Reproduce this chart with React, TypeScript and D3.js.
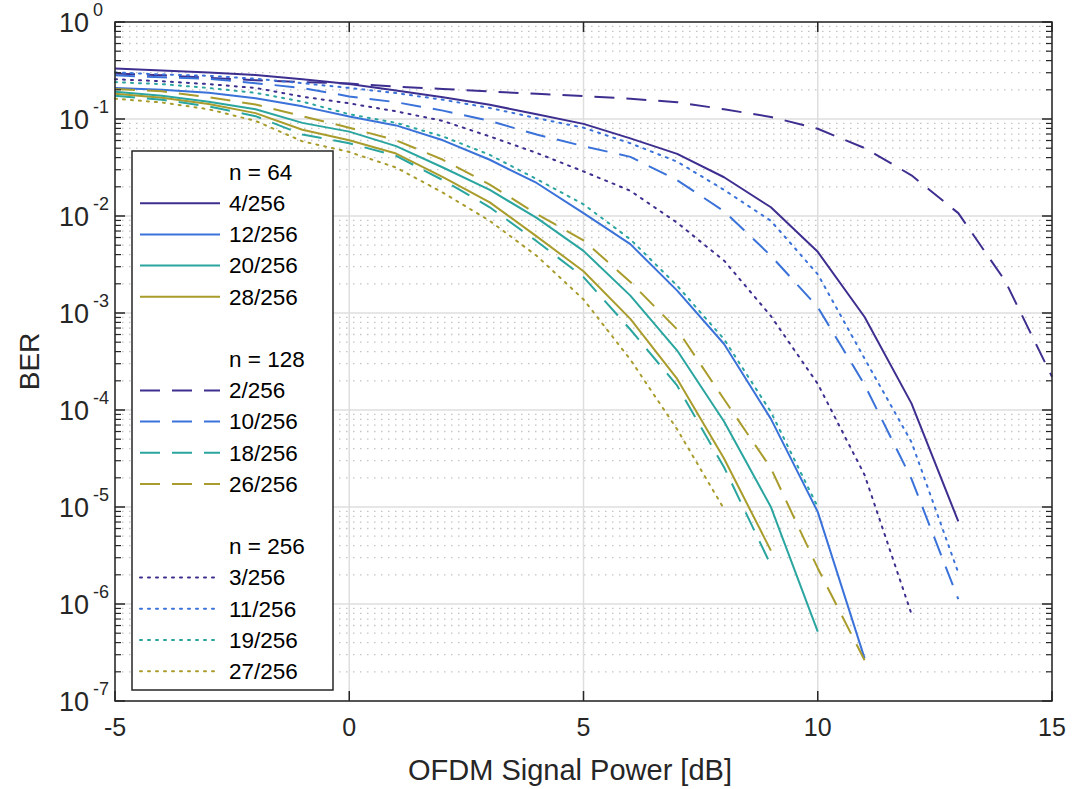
import React from "react";
import * as d3 from "d3";

// SNR axis (dB); each series starts at -5 dB
const snrDb = [-5, -4, -3, -2, -1, 0, 1, 2, 3, 4, 5, 6, 7, 8, 9, 10, 11, 12, 13, 14, 15];

// n = 64 (solid)
const ber4 = [0.331, 0.316, 0.302, 0.285, 0.257, 0.229, 0.197, 0.168, 0.14, 0.112, 0.0891, 0.0631, 0.0437, 0.0251, 0.0123, 0.00427, 9.1e-4, 1.17e-4, 7.1e-6];
const ber12 = [0.209, 0.2, 0.186, 0.164, 0.135, 0.106, 0.0859, 0.0603, 0.038, 0.0219, 0.0107, 0.00513, 0.0017, 4.79e-4, 8.1e-5, 8.9e-6, 2.75e-7];
const ber20 = [0.191, 0.174, 0.151, 0.126, 0.0912, 0.0741, 0.0525, 0.0316, 0.0186, 0.00955, 0.00437, 0.00151, 4.1e-4, 7.6e-5, 1.0e-5, 5.2e-7];
const ber28 = [0.182, 0.166, 0.143, 0.115, 0.0776, 0.0603, 0.044, 0.0251, 0.0138, 0.00617, 0.00269, 8.7e-4, 2.09e-4, 3.16e-5, 3.55e-6];

// n = 128 (dashed)
const ber2 = [0.295, 0.282, 0.266, 0.251, 0.24, 0.232, 0.216, 0.204, 0.192, 0.182, 0.172, 0.162, 0.149, 0.126, 0.105, 0.0794, 0.0501, 0.0263, 0.0107, 0.00214, 2.2e-4];
const ber10 = [0.282, 0.269, 0.26, 0.234, 0.209, 0.171, 0.149, 0.122, 0.0955, 0.0692, 0.0525, 0.0407, 0.0234, 0.0112, 0.00389, 0.00115, 1.82e-4, 1.95e-5, 1.12e-6];
const ber18 = [0.174, 0.158, 0.135, 0.107, 0.0692, 0.0562, 0.0417, 0.0234, 0.0123, 0.0055, 0.00234, 6.76e-4, 1.78e-4, 2.57e-5, 2.51e-6];
const ber26 = [0.204, 0.193, 0.168, 0.141, 0.107, 0.0813, 0.0603, 0.038, 0.0211, 0.0105, 0.00562, 0.00209, 6.76e-4, 1.29e-4, 2.51e-5, 2.34e-6, 2.63e-7];

// n = 256 (dotted)
const ber3 = [0.257, 0.245, 0.229, 0.209, 0.17, 0.145, 0.12, 0.0955, 0.0661, 0.0447, 0.0288, 0.0182, 0.00851, 0.00347, 9.3e-4, 1.86e-4, 2.14e-5, 7.9e-7];
const ber11 = [0.302, 0.288, 0.279, 0.26, 0.234, 0.209, 0.185, 0.158, 0.13, 0.102, 0.0813, 0.0562, 0.0363, 0.0186, 0.00891, 0.00251, 3.39e-4, 4.68e-5, 2.1e-6];
const ber19 = [0.24, 0.229, 0.209, 0.186, 0.151, 0.112, 0.0912, 0.0661, 0.0427, 0.024, 0.0132, 0.00575, 0.00191, 5.37e-4, 9.55e-5, 1.0e-5];
const ber27 = [0.162, 0.148, 0.126, 0.0955, 0.0589, 0.0457, 0.0316, 0.0174, 0.00891, 0.00389, 0.00138, 3.31e-4, 6.31e-5, 9.55e-6];

const xTicks = [-5, 0, 5, 10, 15];
const yExponents = [0, -1, -2, -3, -4, -5, -6, -7];

const groupTitles = ["n = 64", "n = 128", "n = 256"];
const colors = ["#3d2f8f", "#3a72d9", "#2aa59f", "#a99c2c"];
const dashes = ["none", "20,12", "2,6"];

const groups = [
  [{ label: "4/256", v: ber4 }, { label: "12/256", v: ber12 }, { label: "20/256", v: ber20 }, { label: "28/256", v: ber28 }],
  [{ label: "2/256", v: ber2 }, { label: "10/256", v: ber10 }, { label: "18/256", v: ber18 }, { label: "26/256", v: ber26 }],
  [{ label: "3/256", v: ber3 }, { label: "11/256", v: ber11 }, { label: "19/256", v: ber19 }, { label: "27/256", v: ber27 }],
];

const W = 1074, H = 789;
const m = { left: 115, right: 1052, top: 22, bottom: 701 };
const font = "'Liberation Sans', Arial, Helvetica, sans-serif";
const axisColor = "#262626";

export default function App() {
  const x = d3.scaleLinear().domain([-5, 15]).range([m.left, m.right]);
  const y = d3.scaleLog().domain([1e-7, 1]).range([m.bottom, m.top]);
  const line = d3.line<number>().x((d, i) => x(snrDb[i])).y((d) => y(d));

  const minor: number[] = [];
  for (let e = -7; e < 0; e++) for (let k = 2; k <= 9; k++) minor.push(k * Math.pow(10, e));

  const lgX = 132, lgY = 151, lgW = 201, lgH = 539;
  const rowH = 31.2, row0 = 172;

  let row = 0;
  const legendRows: React.ReactNode[] = [];
  groups.forEach((g, gi) => {
    if (gi > 0) row++;
    legendRows.push(
      <text key={"t" + gi} x={229} y={row0 + row * rowH} dy="0.35em" fontSize={22.5} fill="#000">{groupTitles[gi]}</text>
    );
    row++;
    g.forEach((s, si) => {
      const cy = row0 + row * rowH;
      legendRows.push(
        <g key={"l" + gi + si}>
          <line x1={140} x2={gi === 2 ? 214 : 220} y1={cy} y2={cy} stroke={colors[si]} strokeWidth={2}
            strokeDasharray={dashes[gi]} strokeLinecap={gi === 2 ? "round" : "butt"} />
          <text x={229} y={cy} dy="0.35em" fontSize={22.5} fill="#000">{s.label}</text>
        </g>
      );
      row++;
    });
  });

  return (
    <svg width={W} height={H} style={{ position: "absolute", left: 0, top: 0, display: "block" }} fontFamily={font}>
      <rect x={0} y={0} width={W} height={H} fill="#fff" />
      {/* minor grid */}
      {minor.map((v, i) => (
        <line key={"mg" + i} x1={m.left} x2={m.right} y1={y(v)} y2={y(v)} stroke="#c4c4c4" strokeWidth={1.3} strokeDasharray="1.5,5.5" />
      ))}
      {/* major grid */}
      {yExponents.map((e) => (
        <line key={"yg" + e} x1={m.left} x2={m.right} y1={y(Math.pow(10, e))} y2={y(Math.pow(10, e))} stroke="#dedede" strokeWidth={1.5} />
      ))}
      {xTicks.map((t) => (
        <line key={"xg" + t} x1={x(t)} x2={x(t)} y1={m.top} y2={m.bottom} stroke="#dedede" strokeWidth={1.5} />
      ))}

      {/* data */}
      {groups.map((g, gi) =>
        g.map((s, si) => (
          <path key={"p" + gi + si} d={line(s.v) || ""} fill="none" stroke={colors[si]} strokeWidth={2}
            strokeDasharray={dashes[gi]} strokeLinecap={gi === 2 ? "round" : "butt"} strokeLinejoin="round" />
        ))
      )}

      {/* axes box and ticks */}
      <rect x={m.left} y={m.top} width={m.right - m.left} height={m.bottom - m.top} fill="none" stroke={axisColor} strokeWidth={1.5} />
      {xTicks.map((t) => (
        <g key={"xt" + t}>
          <line x1={x(t)} x2={x(t)} y1={m.bottom} y2={m.bottom - 10} stroke={axisColor} strokeWidth={1.5} />
          <line x1={x(t)} x2={x(t)} y1={m.top} y2={m.top + 10} stroke={axisColor} strokeWidth={1.5} />
          <text x={x(t)} y={736} textAnchor="middle" fontSize={25} fill={axisColor}>{t}</text>
        </g>
      ))}
      {yExponents.map((e) => {
        const yy = y(Math.pow(10, e));
        return (
          <g key={"yt" + e}>
            <line x1={m.left} x2={m.left + 10} y1={yy} y2={yy} stroke={axisColor} strokeWidth={1.5} />
            <line x1={m.right} x2={m.right - 10} y1={yy} y2={yy} stroke={axisColor} strokeWidth={1.5} />
            <text x={89} y={yy + 10} textAnchor="end" fontSize={27} fill={axisColor}>10</text>
            <text x={93} y={yy - 6} textAnchor="start" fontSize={18} fill={axisColor}>{e}</text>
          </g>
        );
      })}
      {minor.map((v, i) => (
        <g key={"mt" + i}>
          <line x1={m.left} x2={m.left + 6} y1={y(v)} y2={y(v)} stroke={axisColor} strokeWidth={1.2} />
          <line x1={m.right} x2={m.right - 6} y1={y(v)} y2={y(v)} stroke={axisColor} strokeWidth={1.2} />
        </g>
      ))}

      {/* axis labels */}
      <text x={570} y={780} textAnchor="middle" fontSize={29} fill={axisColor}>OFDM Signal Power [dB]</text>
      <text transform={`translate(39, ${(m.top + m.bottom) / 2}) rotate(-90)`} textAnchor="middle" fontSize={28} fill={axisColor}>BER</text>

      {/* legend */}
      <rect x={lgX} y={lgY} width={lgW} height={lgH} fill="#fff" stroke={axisColor} strokeWidth={1.5} />
      {legendRows}
    </svg>
  );
}
